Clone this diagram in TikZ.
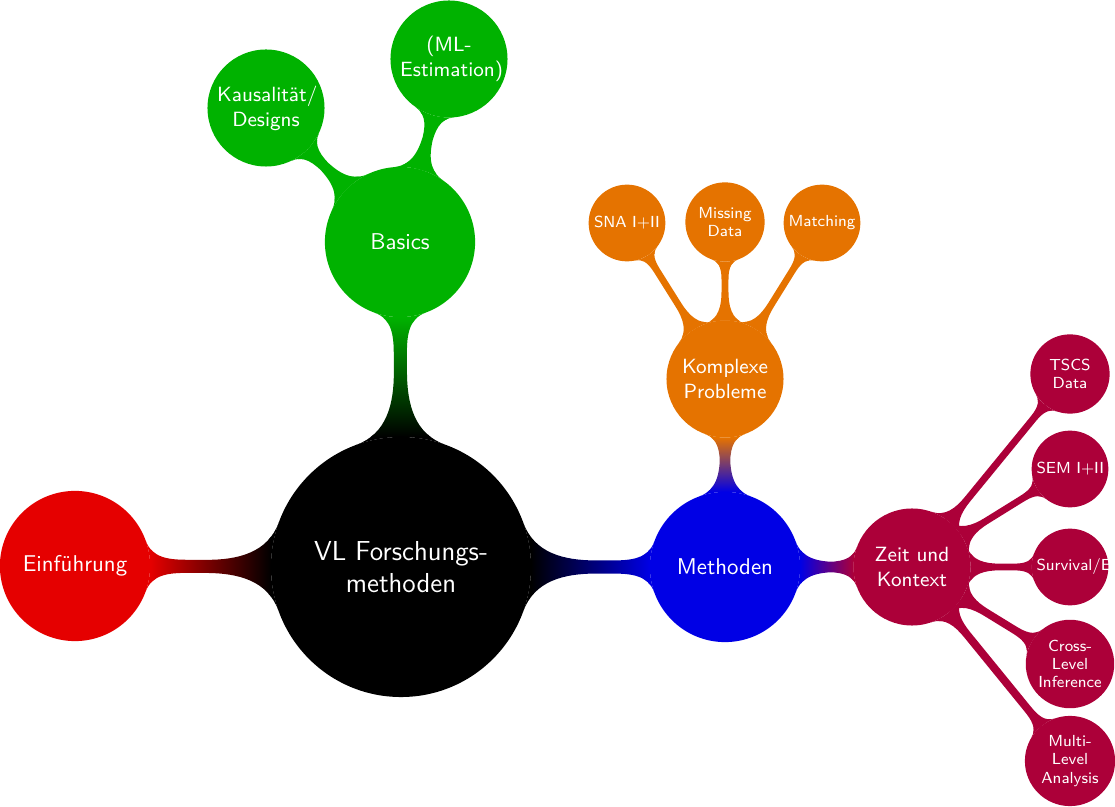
\documentclass[tikz,border=0pt]{standalone}
\usetikzlibrary{mindmap,backgrounds}
\colorlet{cRed}{red!90!black}
\colorlet{cGreen}{green!70!black}
\colorlet{cBlue}{blue!90!black}
\colorlet{cOrange}{orange!90!black}
\colorlet{cPurple}{purple!90!black}
\tikzset{
  cbase/.style={circle, text=white, align=center, inner sep=1pt, font=\sffamily},
  rootc/.style={cbase, fill=black, minimum size=4cm, text width=3.5cm, font=\sffamily\large},
  lvlone/.style={cbase, minimum size=2.31cm, text width=2cm, font=\sffamily\normalsize},
  lvltwo/.style={cbase, minimum size=1.8cm, text width=1.5cm, font=\sffamily\small},
  lvlthree/.style={cbase, minimum size=1.18cm, text width=1.03cm, font=\sffamily\scriptsize},
}
\begin{document}
\begin{tikzpicture}[mindmap, x=0.0153846cm, y=-0.0153846cm]
\useasboundingbox (0,0) rectangle (1115,807);
\node[rootc] (root) at (401,567) {VL Forschungs-\\methoden};
\node[lvlone, fill=cRed] (ein) at (75,566) {Einführung};
\node[lvlone, fill=cGreen] (bas) at (400,242) {Basics};
\node[lvlone, fill=cBlue] (met) at (725,567) {Methoden};
\node[lvltwo, fill=cGreen] (kau) at (266,108) {Kausalität/\\Designs};
\node[lvltwo, fill=cGreen] (mle) at (449,59) {(ML-\\Estimation)};
\node[lvltwo, fill=cOrange] (kom) at (725,379) {Komplexe\\Probleme};
\node[lvltwo, fill=cPurple] (zei) at (912,567) {Zeit und\\Kontext};
\node[lvlthree, fill=cOrange] (sna) at (627,223) {\mbox{SNA I+II}};
\node[lvlthree, fill=cOrange] (mis) at (725,222) {Missing\\Data};
\node[lvlthree, fill=cOrange] (mat) at (822,223) {Matching};
\node[lvlthree, fill=cPurple] (tsc) at (1070,374) {TSCS\\Data};
\node[lvlthree, fill=cPurple] (sem) at (1070,469) {\mbox{SEM I+II}};
\node[lvlthree, fill=cPurple] (sur) at (1070,567) {\mbox{Survival/Event}};
\node[lvlthree, fill=cPurple] (cro) at (1070,664) {Cross-\\Level\\Inference};
\node[lvlthree, fill=cPurple] (mul) at (1070,761) {Multi-\\Level\\Analysis};
\begin{pgfonlayer}{background}
\path (root) to[circle connection bar switch color=from (black) to (cRed)] (ein);
\path (root) to[circle connection bar switch color=from (black) to (cGreen)] (bas);
\path (root) to[circle connection bar switch color=from (black) to (cBlue)] (met);
\path (bas) to[circle connection bar switch color=from (cGreen) to (cGreen)] (kau);
\path (bas) to[circle connection bar switch color=from (cGreen) to (cGreen)] (mle);
\path (met) to[circle connection bar switch color=from (cBlue) to (cOrange)] (kom);
\path (met) to[circle connection bar switch color=from (cBlue) to (cPurple)] (zei);
\path (kom) to[circle connection bar switch color=from (cOrange) to (cOrange)] (sna);
\path (kom) to[circle connection bar switch color=from (cOrange) to (cOrange)] (mis);
\path (kom) to[circle connection bar switch color=from (cOrange) to (cOrange)] (mat);
\path (zei) to[circle connection bar switch color=from (cPurple) to (cPurple)] (tsc);
\path (zei) to[circle connection bar switch color=from (cPurple) to (cPurple)] (sem);
\path (zei) to[circle connection bar switch color=from (cPurple) to (cPurple)] (sur);
\path (zei) to[circle connection bar switch color=from (cPurple) to (cPurple)] (cro);
\path (zei) to[circle connection bar switch color=from (cPurple) to (cPurple)] (mul);
\end{pgfonlayer}
\end{tikzpicture}
\end{document}
